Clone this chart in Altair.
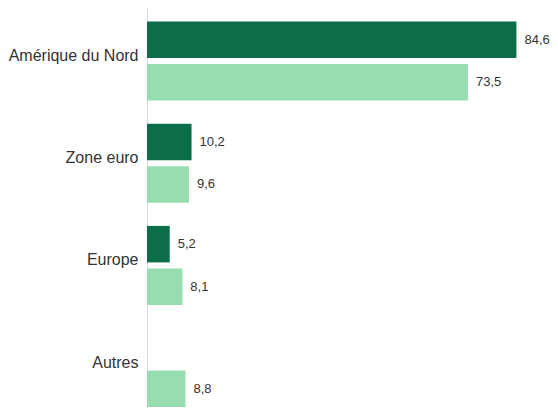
import altair as alt
import pandas as pd

categories = ["Amérique du Nord", "Zone euro", "Europe", "Autres"]
series_names = ["Série 1", "Série 2"]
series1 = [84.6, 10.2, 5.2, None]
series2 = [73.5, 9.6, 8.1, 8.8]
colors = ["#0b6e48", "#98ddb0"]

rows = []
for c, a, b in zip(categories, series1, series2):
    rows.append({"cat": c, "serie": series_names[0], "value": a})
    rows.append({"cat": c, "serie": series_names[1], "value": b})
df = pd.DataFrame(rows)

base = alt.Chart(df).transform_filter("isValid(datum.value)").transform_calculate(
    label="replace(format(datum.value, '.1f'), '.', ',')"
)

y = alt.Y("cat:N", sort=categories, title=None,
          scale=alt.Scale(range=[-3.2, 405.6], paddingInner=0, paddingOuter=0),
          axis=alt.Axis(ticks=False, labelFontSize=16, labelColor="#333333",
                        labelFont="Liberation Sans", labelPadding=9,
                        domainColor="#d9d9d9", domainWidth=1, grid=False))
yoff = alt.YOffset("serie:N", sort=series_names,
                   scale=alt.Scale(paddingInner=0.14, paddingOuter=0.273, align=0.72))
x = alt.X("value:Q", scale=alt.Scale(domain=[0, 90], nice=False), axis=None)

bars = base.mark_bar().encode(
    y=y, yOffset=yoff, x=x,
    color=alt.Color("serie:N", scale=alt.Scale(domain=series_names, range=colors), legend=None),
)
texts = base.mark_text(align="left", baseline="middle", dx=8, fontSize=13,
                       font="Liberation Sans", color="#333333").encode(
    y=y, yOffset=yoff, x=x, text="label:N"
)

chart = (bars + texts).properties(
    width=393, height=400,
    autosize=alt.AutoSizeParams(type="none"),
    padding={"left": 139, "top": 0, "right": 10, "bottom": 0},
).configure_view(stroke=None)

chart.save("out.html", embed_options={"renderer": "svg", "actions": False})
